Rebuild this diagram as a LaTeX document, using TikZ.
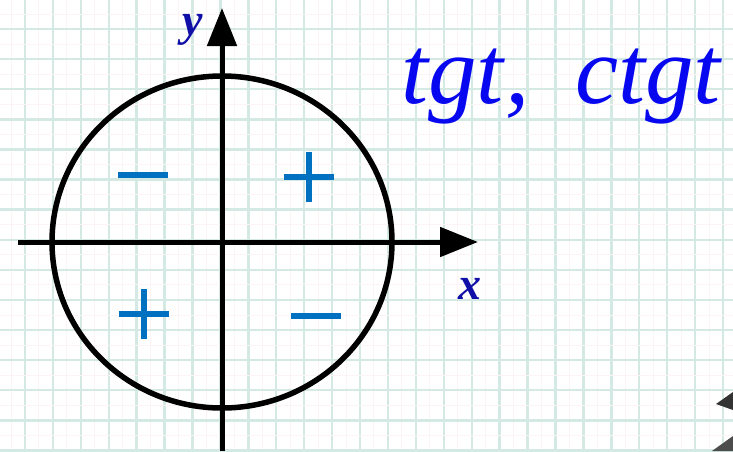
\documentclass[tikz,border=0pt]{standalone}
\usepackage{fontspec}
\setmainfont{Liberation Serif}
\usetikzlibrary{arrows.meta}
\definecolor{GridLine}{RGB}{212,233,228}
\definecolor{GridPink}{RGB}{252,243,244}
\definecolor{SignBlue}{RGB}{0,112,192}
\definecolor{LabelBlue}{RGB}{16,16,168}
\definecolor{TitleBlue}{RGB}{8,8,240}
\newcommand{\plusmark}[1]{%
  \draw[sign] ($(#1)+(-25,0)$) -- ($(#1)+(25,0)$);
  \draw[sign] ($(#1)+(0,-25)$) -- ($(#1)+(0,25)$);
}
\newcommand{\minusmark}[1]{%
  \draw[sign] ($(#1)+(-25,0)$) -- ($(#1)+(25,0)$);
}
\usetikzlibrary{calc}
\begin{document}
\begin{tikzpicture}[x=1pt,y=-1pt,
  axis/.style={line width=5pt,-{Triangle[length=38pt,width=29pt]}},
  sign/.style={SignBlue,line width=6pt},
  every node/.style={inner sep=0pt}]
  \useasboundingbox (0,0) rectangle (733,451);
  % Squared paper.
  \fill[white] (0,0) rectangle (733,451);
  \foreach \k in {0,...,25} {
    \draw[GridPink,line width=1pt] ({11+27.92*\k},0) -- ({11+27.92*\k},451);
    \draw[GridLine,line width=2.4pt] ({25+27.92*\k},0) -- ({25+27.92*\k},451);
  }
  \foreach \k in {0,...,14} {
    \draw[GridPink,line width=1pt] (0,{14+30.1*\k}) -- (733,{14+30.1*\k});
    \draw[GridLine,line width=2.4pt] (0,{29+30.1*\k}) -- (733,{29+30.1*\k});
  }

  % Unit circle and axes.
  \coordinate (O) at (222,242);
  \coordinate (xstart) at (18,242);
  \coordinate (xend) at (478,242);
  \coordinate (ystart) at (222,451);
  \coordinate (yend) at (222,8);
  \draw[line width=5.5pt] (O) circle [x radius=170pt, y radius=166pt];
  \draw[axis] (xstart) -- (xend);
  \draw[axis] (ystart) -- (yend);

  \node[text=LabelBlue,font=\fontsize{46}{46}\selectfont\bfseries\itshape] (ylab) at (193,30) {y};
  \node[text=LabelBlue,font=\fontsize{46}{46}\selectfont\bfseries\itshape] (xlab) at (470,289) {x};
  \node[anchor=base west,text=TitleBlue,font=\fontsize{97}{97}\selectfont\itshape] (title) at (401,103) {tgt\kern2pt,\hspace{0.22em} ctgt};

  % Signs of the quadrants.
  \coordinate (q1) at (309,177);
  \coordinate (q2) at (143,175);
  \coordinate (q3) at (144,314);
  \coordinate (q4) at (316,316);
  \plusmark{q1}
  \minusmark{q2}
  \plusmark{q3}
  \minusmark{q4}

  % Stray marks at the edge.
  \fill[black!80] (716,404) -- (733,392) -- (733,410) -- cycle;
  \fill[black!70] (712,451) -- (733,436) -- (733,451) -- cycle;
\end{tikzpicture}
\end{document}
